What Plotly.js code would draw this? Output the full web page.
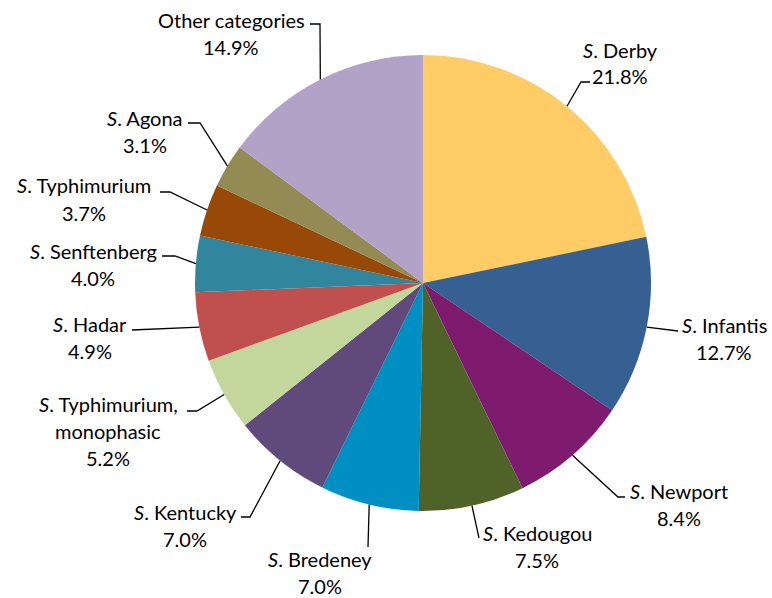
<!DOCTYPE html>
<html>
<head>
<meta charset="utf-8">
<script src="https://cdn.plot.ly/plotly-3.0.1.min.js"></script>
<style>html,body{margin:0;padding:0;background:#fff}#chart{width:772px;height:598px}</style>
</head>
<body>
<div id="chart"></div>
<script>
// ---- data ----
const categories = ["S. Derby", "S. Infantis", "S. Newport", "S. Kedougou", "S. Bredeney", "S. Kentucky",
  "S. Typhimurium,\nmonophasic", "S. Hadar", "S. Senftenberg", "S. Typhimurium", "S. Agona", "Other categories"];
const percents = [21.8, 12.7, 8.4, 7.5, 7.0, 7.0, 5.2, 4.9, 4.0, 3.7, 3.1, 14.9];

// ---- styles / layout ----
const colors = ["#FFCC66", "#366092", "#7F1B6E", "#4F6228", "#008FC3", "#604A7B",
  "#C3D69B", "#C0504D", "#31859C", "#984807", "#948A54", "#B2A2C7"];
const W = 772, H = 598;
const domX = [195 / W, 651 / W], domY = [87 / H, 543 / H];
// label centres (px) and leader line elbow/end points (px)
const labelPos = [[620, 63], [724, 338.5], [679, 504], [537, 546.5], [320, 572.5], [185, 525],
  [108, 430.5], [90, 337], [93, 264.5], [84, 199], [145, 131], [231, 33.5]];
const leaderPts = [
  [[581, 82], [590, 82]],
  [[678, 331]],
  [[618, 497], [625, 497]],
  [[479, 538]],
  [[368, 547]],
  [[250, 517], [241, 517]],
  [[197, 411], [187, 411]],
  [[132, 330]],
  [[175, 256], [162, 256]],
  [[170, 192], [160, 192]],
  [[200, 123], [188, 123]],
  [[320, 24], [310, 24]]
];
const FONT = "Lato, 'Open Sans', sans-serif";
const FONT_SIZE = 20;
const LINE_GAP = 27;

// pie geometry from domain
const cx = (domX[0] + domX[1]) / 2 * W;
const cy = (1 - (domY[0] + domY[1]) / 2) * H;
const R = Math.min((domX[1] - domX[0]) * W, (domY[1] - domY[0]) * H) / 2;
const total = percents.reduce((a, b) => a + b, 0);

const px = x => x / W, py = y => 1 - y / H;
const annotations = [], shapes = [];
let cum = 0;
percents.forEach((v, i) => {
  const mid = (cum + v / 2) / total * 2 * Math.PI;
  cum += v;
  const ax = cx + R * Math.sin(mid), ay = cy - R * Math.cos(mid);
  let path = `M ${px(ax)},${py(ay)}`;
  leaderPts[i].forEach(p => { path += ` L ${px(p[0])},${py(p[1])}`; });
  shapes.push({type: "path", xref: "paper", yref: "paper", path: path,
    line: {color: "#000000", width: 1.3}});
  const lines = categories[i].split("\n").map(s => s.replace(/^S\. /, "<i>S</i>. "));
  lines.push(v.toFixed(1) + "%");
  const n = lines.length;
  lines.forEach((t, k) => {
    const yy = labelPos[i][1] + (k - (n - 1) / 2) * LINE_GAP;
    annotations.push({xref: "paper", yref: "paper", x: px(labelPos[i][0]), y: py(yy),
      xanchor: "center", yanchor: "middle", align: "center", showarrow: false,
      text: t, font: {family: FONT, size: FONT_SIZE, color: "#000000"}});
  });
});

const trace = {
  type: "pie", values: percents, labels: categories.map(c => c.replace("\n", " ")),
  sort: false, direction: "clockwise", rotation: 0,
  marker: {colors: colors, line: {color: "#ffffff", width: 0}},
  textinfo: "none", hoverinfo: "skip", showlegend: false,
  domain: {x: domX, y: domY}
};
Plotly.newPlot("chart", [trace], {
  width: W, height: H, margin: {l: 0, r: 0, t: 0, b: 0},
  paper_bgcolor: "#ffffff", plot_bgcolor: "#ffffff",
  showlegend: false, annotations: annotations, shapes: shapes,
  font: {family: FONT}
}, {staticPlot: true});
</script>
</body>
</html>
